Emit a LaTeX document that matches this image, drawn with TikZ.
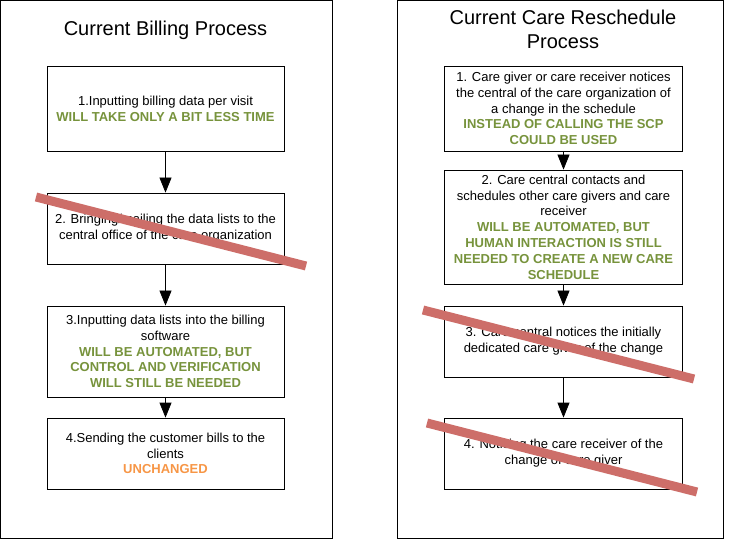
\documentclass[tikz,border=0pt]{standalone}
\usepackage{fontspec}
\setmainfont{Liberation Sans}
\usetikzlibrary{arrows.meta}
\definecolor{okgreen}{HTML}{77933C}
\definecolor{okorange}{HTML}{F79646}
\definecolor{strike}{HTML}{CD6E69}
\tikzset{
  frame/.style={draw=black, line width=0.9pt},
  stepbox/.style={draw=black, line width=0.8pt, rectangle, minimum width=237pt, inner sep=0pt, align=center, font=\fontsize{13}{15.8}\selectfont},
  title/.style={align=center, font=\fontsize{20}{24}\selectfont, inner sep=0pt},
  flow/.style={draw=black, line width=0.8pt, -{Triangle[width=12pt,length=15pt]}},
  cross/.style={draw=strike, line width=9pt},
}
\newcommand{\gr}[1]{\textcolor{okgreen}{\bfseries #1}}
\begin{document}
\begin{tikzpicture}[x=1pt,y=-1pt]
\useasboundingbox (0,0) rectangle (729,540);
\fill[white] (0,0) rectangle (729,540);
% containers
\draw[frame] (0.5,0.5) rectangle (332,538.5);
\draw[frame] (397,0.5) rectangle (723.5,538.5);
% titles
\node[title] (t1) at (165.5,30) {Current Billing Process};
\node[title] (t2) at (563,29) {Current Care Reschedule\\Process};
% left column
\node[stepbox, minimum height=85pt] (b1) at (165.5,108.5) {1.Inputting billing data per visit\\\gr{WILL TAKE ONLY A BIT LESS TIME}};
\node[stepbox, minimum height=71pt] (b2) at (165.5,228.5) {2. Bringing/mailing the data lists to the\\central office of the care organization};
\node[stepbox, minimum height=91pt] (b3) at (165.5,351.5) {3.Inputting data lists into the billing\\software\\\gr{WILL BE AUTOMATED, BUT}\\\gr{CONTROL AND VERIFICATION}\\\gr{WILL STILL BE NEEDED}};
\node[stepbox, minimum height=71pt] (b4) at (165.5,453.5) {4.Sending the customer bills to the\\clients\\\textcolor{okorange}{\bfseries UNCHANGED}};
\draw[flow] (b1) -- (b2);
\draw[flow] (b2) -- (b3);
\draw[flow] (b3) -- (b4);
% right column
\node[stepbox, minimum width=238pt, minimum height=85pt] (r1) at (563.5,108.5) {1. Care giver or care receiver notices\\the central of the care organization of\\a change in the schedule\\\gr{INSTEAD OF CALLING THE SCP}\\\gr{COULD BE USED}};
\node[stepbox, minimum width=238pt, minimum height=114pt] (r2) at (563.5,227) {2. Care central contacts and\\schedules other care givers and care\\receiver\\\gr{WILL BE AUTOMATED, BUT}\\\gr{HUMAN INTERACTION IS STILL}\\\gr{NEEDED TO CREATE A NEW CARE}\\\gr{SCHEDULE}};
\node[stepbox, minimum width=238pt, minimum height=71pt] (r3) at (563.5,341.5) {3. Care central notices the initially\\dedicated care giver of the change};
\node[stepbox, minimum width=238pt, minimum height=71pt] (r4) at (563.5,453.5) {4. Noticing the care receiver of the\\change of care giver};
\draw[flow] (r1) -- (r2);
\draw[flow] (r2) -- (r3);
\draw[flow] (r3) -- (r4);
% strike-throughs
\draw[cross] (36,197) -- (306,266);
\draw[cross] (423,310) -- (694,379);
\draw[cross] (427,423) -- (697,492);
\end{tikzpicture}
\end{document}
